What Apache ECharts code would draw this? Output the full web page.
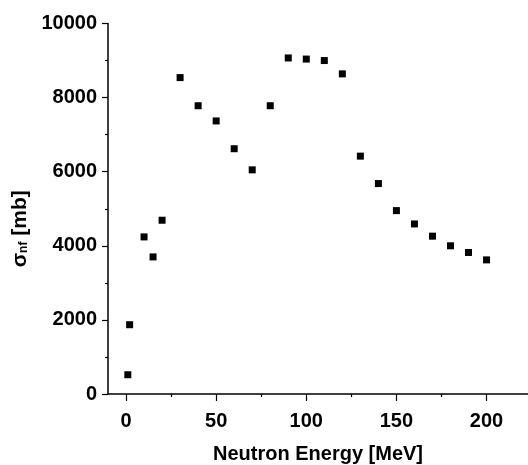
<!DOCTYPE html>
<html>
<head>
<meta charset="UTF-8">
<title>Neutron fission cross section</title>
<script src="https://cdn.jsdelivr.net/npm/echarts@6/dist/echarts.min.js"></script>
<style>
html, body { margin: 0; padding: 0; background: #fff; }
</style>
</head>
<body>
	<div id="main" style="width:528px;height:465px;"></div>
	<script type="text/javascript">
	// neutron energy (MeV) and cross section (mb)
	var energies = [1, 2, 10, 15, 20, 30, 40, 50, 60, 70, 80, 90, 100, 110, 120, 130, 140, 150, 160, 170, 180, 190, 200];
	var sigma = [520, 1870, 4240, 3700, 4690, 8540, 7780, 7370, 6620, 6050, 7780, 9070, 9040, 9000, 8640, 6420, 5680, 4950, 4590, 4260, 4000, 3820, 3620];
	var xMajor = [0, 50, 100, 150, 200];
	var xMinor = [25, 75, 125, 175];

	var FONT = "'Liberation Sans', Arial, sans-serif";
	var plain = function (v) { return String(v); };

	var points = energies.map(function (e, i) { return [e, sigma[i]]; });

	var myChart = echarts.init(document.getElementById('main'));
	myChart.setOption({
	    animation: false,
	    grid: { left: 108, right: 0, top: 23.5, bottom: 71, outerBoundsMode: 'none', containLabel: false },
	    xAxis: [{
	        type: 'value',
	        min: -10,
	        max: 223,
	        name: 'Neutron Energy [MeV]',
	        nameLocation: 'middle',
	        nameGap: 50,
	        nameTextStyle: { fontFamily: FONT, fontWeight: 'bold', fontSize: 20, color: '#000' },
	        axisLine: { show: true, onZero: false, lineStyle: { color: '#000', width: 1.5 } },
	        axisTick: { show: true, length: 7, customValues: xMajor, lineStyle: { color: '#000', width: 1.2 } },
	        axisLabel: { customValues: xMajor, formatter: plain, margin: 17, fontFamily: FONT, fontWeight: 'bold', fontSize: 20, color: '#000' },
	        splitLine: { show: false }
	    }, {
	        type: 'value',
	        min: -10,
	        max: 223,
	        position: 'bottom',
	        axisLine: { show: false, onZero: false },
	        axisTick: { show: true, length: 3, customValues: xMinor, lineStyle: { color: '#000', width: 1.2 } },
	        axisLabel: { show: false },
	        splitLine: { show: false }
	    }],
	    yAxis: {
	        type: 'value',
	        min: 0,
	        max: 10000,
	        interval: 2000,
	        name: '{s|σ}{sub|nf}{s| [mb]}',
	        nameLocation: 'middle',
	        nameRotate: 90,
	        nameGap: 74,
	        nameTextStyle: {
	            padding: [0, 40, 0, 0],
	            rich: {
	                s: { fontFamily: FONT, fontWeight: 'bold', fontSize: 21, color: '#000' },
	                sub: { fontFamily: FONT, fontWeight: 'bold', fontSize: 12, color: '#000', padding: [8, 0, 0, 0] }
	            }
	        },
	        axisLine: { show: true, onZero: false, lineStyle: { color: '#000', width: 1.5 } },
	        axisTick: { show: true, length: 6, lineStyle: { color: '#000', width: 1.2 } },
	        minorTick: { show: true, splitNumber: 2, length: 3, lineStyle: { color: '#000', width: 1.2 } },
	        axisLabel: { formatter: plain, margin: 11, fontFamily: FONT, fontWeight: 'bold', fontSize: 20, color: '#000' },
	        splitLine: { show: false }
	    },
	    series: [{
	        type: 'scatter',
	        xAxisIndex: 0,
	        symbol: 'rect',
	        symbolSize: 7,
	        itemStyle: { color: '#000', opacity: 1 },
	        data: points
	    }]
	});
	</script>
</body>
</html>
